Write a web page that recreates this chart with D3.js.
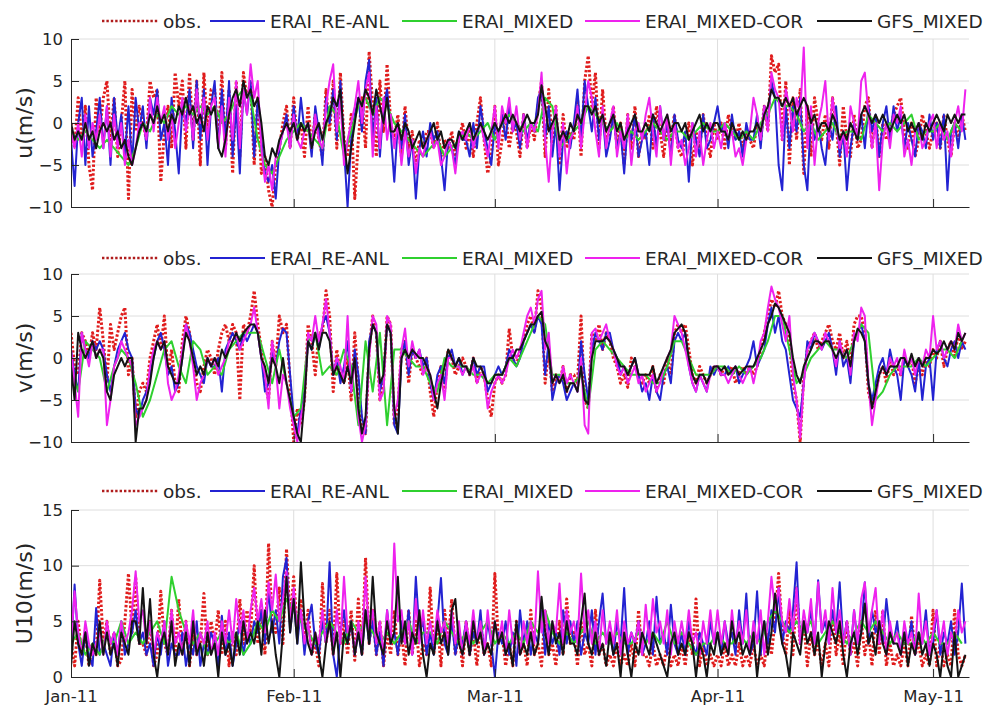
<!DOCTYPE html>
<html>
<head>
<meta charset="utf-8">
<script src="https://cdn.jsdelivr.net/npm/d3@7"></script>
<style>
  body { margin: 0; background: #fff; }
  svg { display: block; }
  text { font-family: "DejaVu Sans", sans-serif; fill: #262626; }
</style>
</head>
<body>
<svg id="chart" width="986" height="706"></svg>
<script>
// ---- labels and ticks ----
const seriesNames = ["obs.", "ERAI_RE-ANL", "ERAI_MIXED", "ERAI_MIXED-COR", "GFS_MIXED"];
const monthLabels = ["Jan-11", "Feb-11", "Mar-11", "Apr-11", "May-11"];
const monthStarts = ["2011-01-01", "2011-02-01", "2011-03-01", "2011-04-01", "2011-05-01"];
const periodStart = "2011-01-01";
const periodEnd = "2011-05-06";
const uTicks = [-10, -5, 0, 5, 10];
const vTicks = [-10, -5, 0, 5, 10];
const spdTicks = [0, 5, 10, 15];
// sampling interval (hours) of the twice-daily and daily series
const stepTwiceDaily = 12;
const stepDaily = 24;

// ---- u component (m/s), twice daily unless noted ----
const uObs = [
  0,-3,3,-2,2,-5,-8,3,-1,3, 5,-2,3,-4,0,5,-9,4,-1,2, 0,-2,5,3,4,-7,-1,2,-3,6,
  2,5,-3,6,-2,5,-5,6,-1,4, 4,-2,6,-3,4,-6,5,-4,6,3, 5,-5,3,-6,-4,-8,-10,-5,-3,0,
  2,-3,3,-2,0,-4,2,-3,1,-2, -4,4,-1,5,-3,6,-2,-4,1,-9, -2,3,-3,8.5,2,-4,5,-1,7,0,
  -2,1,-4,2,-3,-1,-5,-2,-3,-1, -1,-3,0,-4,-2,-3,-1,-4,-2,0, -3,-1,-4,0,3,-2,-6,-4,2,-5,
  -2,1,-3,0,-1,-4,1,-3,0,-2, 2,5,-4,4,-3,2,-5,1,-3,-1, -2,3,-4,5,8,2,6,-3,4,-2,
  -1,2,-3,0,-5,1,-3,2,-4,-1, -2,1,-3,2,-1,-4,0,-2,1,-3, -4,-2,0,-5,-1,-3,1,-2,-4,0,
  -2,0,-3,1,-1,-2,0,-3,-1,-2, -3,0,-2,2,-1,8,6,7,-2,5, -5,3,-2,4,-6,2,-4,3,0,-2,
  1,-3,3,0,-5,2,-2,-4,1,-3, -2,2,3,-3,1,-4,0,-2,-1,1, 2,3,-1,-3,0,-4,-2,1,-1,-3,
  -1,0,-3,1,-2,-4,0,-2,1,-1
];
const uEraiReAnl = [
  -2,-7.5,0,3,-5,2,-4,-1,3,-3, 2,-5,3,-2,1,-4,2,-5,3,-1, 2,-3,3,1,4,-2,0,-5,3,-1,
  -6,2,0,4,-3,5,-2,4,-5,2, 5,-3,4,-2,5,-4,2,-6,4,1, 5,-4,3,-2,-6,-7,-5,-9,-3,-1,
  1,-3,2,-2,3,-1,0,-4,2,-1, -5,3,0,4,-2,5,-3,-10,-2,1, 3,-1,5,7.5,-2,3,-4,2,4,-1,
  -7,0,-3,1,-5,-2,-9,-3,-1,-4, 0,-2,-1,-4,-8,-2,-3,-5,-1,-2, -2,-4,0,-3,2,-1,-3,-5,0,-2,
  1,-2,2,-1,0,-3,1,-2,0,-1, 3,4,-2,2,-4,0,-8,-2,-1,-3, 0,4,-2,5,2,-1,3,-2,1,-4,
  -2,1,-3,-1,-6,0,-2,1,-4,-2, -1,-5,1,-3,2,-2,0,-4,1,-2, -3,-1,-7,0,-2,-4,1,-3,-2,0,
  2,-1,0,-3,1,-2,-1,-4,0,-2, -2,1,-3,2,0,5,3,-5,-8,2, -3,2,-1,3,-5,-8,1,-2,0,-3,
  -5,0,-2,2,-4,-1,-8,-3,0,-2, 1,-3,2,-1,1,-4,0,2,-2,2, -1,1,-3,0,-2,-4,0,-1,-3,1,
  -2,0,-3,1,-8,-1,0,-3,1,-2
];
// daily
const uEraiMixed = [
  -1,-2,-1,-2,-3,-2,-3,-4,-5,-3, 0,-1,1,0,2,1,2,1,2,1, 2,0,1,3,4,3,-2,-5,-6,-4,
  -2,-1,0,-1,-2,-3,2,1,-4,-1, 2,3,1,3,2,0,-1,-2,-3,-4, -3,-2,-4,-3,-2,-1,-2,-1,0,-2,
  0,1,0,-1,0,-1,3,2,-3,-2, -1,0,2,1,0,-1,0,-2,-1,-2, -1,0,-1,-2,-1,-1,-2,-1,0,-1,
  -1,0,-1,-2,-1,-2,0,1,3,2, 2,1,-1,0,-2,-1,0,-2,-1,-1, -2,1,0,-1,0,-1,0,1,-2,-1,
  -1,0,-2,0,-1
];
const uEraiMixedCor = [
  -1,-3,0,-4,1,-3,0,-2,1,-3, 2,-4,1,-3,0,-5,-2,-5,-3,0, 0,-2,3,-1,3,0,2,-2,1,-3,
  0,3,-1,2,-2,4,0,3,-2,2, 3,-3,2,-4,3,-2,5,-3,4,1, 7,3,5,-3,-7,-5,-8,-4,-3,-1,
  0,-3,1,-2,-3,-1,0,-3,1,-2, -3,2,5,7,-1,3,-5,-2,0,2, 5,0,4,6,-4,2,-3,3,-2,1,
  -3,0,-5,-1,-4,-2,-6,-3,-4,-2, -1,-3,-2,-5,-4,-2,-3,-6,-2,-1, -2,0,-3,-1,0,-2,-4,-1,2,-3,
  2,0,3,-1,2,-2,1,-3,0,-1, 1,6,-2,-7,-1,2,-4,0,-6,-2, -1,2,-3,1,5,3,-1,-4,2,-3,
  0,2,-4,-1,-3,1,-5,-1,0,-2, 1,3,-1,-4,2,-2,1,-5,0,-3, -2,-5,-3,0,-4,-1,-5,-2,0,-3,
  -1,-3,0,-2,-1,-4,-3,-5,-2,-1, 3,1,-2,2,-1,6,4,3,-2,4, 2,-1,3,1,9,-3,2,-5,0,2,
  5,-2,3,0,-3,-1,-4,2,0,-2, 5,6,1,-3,0,-8,-2,0,-3,1, 0,2,-4,-2,-5,-1,0,-3,-2,0,
  1,-3,0,-2,-1,-4,0,2,-1,4
];
const uGfsMixed = [
  0,-2,-1,-2,0,-2,-1,-3,-1,0, -1,0,-2,-1,-3,-2,-4,-5,-3,-1, 0,-1,1,0,2,0,1,-1,1,0,
  2,1,3,1,2,0,1,-1,2,1, 2,-3,-4,-2,1,3,4,2,5,3, 4,2,3,0,-4,-5,-3,-4,-2,-1,
  0,-1,0,-2,0,-1,0,-3,-1,0, -2,0,1,3,2,4,-2,-6,-3,0, 3,2,4,3,1,4,2,0,3,-1,
  -1,0,-2,0,-1,-3,-2,-1,-3,-2, -1,0,-2,-1,-3,-2,-2,-3,-1,-2, -1,0,-2,-1,0,-1,-2,-1,0,-1,
  0,1,0,1,0,-1,0,1,0,0, 1,4.5,2,-1,0,1,-2,-1,-2,0, -1,1,0,2,2,1,2,0,1,-1,
  0,1,-1,0,-2,-1,0,1,-1,-1, 0,-1,1,0,-1,0,1,-1,0,0, -1,0,-2,-1,0,1,-1,0,-1,0,
  0,-1,-1,-2,0,-1,-2,-1,-2,-1, -1,0,-1,1,2,4,3,3,2,3, 2,3,1,2,3,2,0,1,-1,0,
  0,-1,1,0,-2,-1,-2,0,-1,-2, 1,2,1,0,1,0,1,0,-1,0, 1,0,1,-1,0,-1,0,-2,0,-1,
  0,1,0,-1,1,0,1,0,1,1
];

// ---- v component (m/s) ----
const vObs = [
  3,-1,-2,3,2,0,3,1,6,2, -3,4,1,3,5,6,-2,0,-7,-4, -3,-4,0,2,4,1,5,-2,1,-3,
  -4,2,5,3,0,-3,-4,-1,1,0, -2,1,3,4,2,4,3,-5,4,3, 5,8,4,1,-3,-5,2,-1,5,3,
  4,-3,-10,-6,-8,-5,4,2,-2,3, 3,8,5,-4,1,-2,-3,0,-5,3, -3,-8,-9,1,5,3,-5,-3,5,4,
  -8,-6,1,2,-3,1,0,-1,-2,0, -4,-7,-3,-1,-4,1,0,-2,-1,0, -1,-2,0,-3,-1,-2,-5,-7,-3,-2,
  -3,-2,3.5,0,-1,1,2,4,5,3, 8,6,-3,1,-4,-2,-3,-1,-4,-2, -2,-3,5,-5,-6,3,2,4,1,3,
  2,0,-1,-3,-2,-3.5,0,-1,-2,-3, -2,-3,-1,-4,-2,-3,0,-2,3,4, 3,4,1,-2,-3,-1,-2,-3,-2,-1,
  -1,-2,-1,-2,-1,-3,-2,-1,-2,-1, -2,-1,1,3,5,7,6,8,5,4, 2,-3,-5,-10,-2,1,2,3,1,2,
  3,4,2,1,3,0,2,-1,4,5, 5,3,-4,-6,-4,-2,-1,-3,0,-2, -1,-2,0,-1,0,-3,-1,-2,0,-1,
  1,0,2,-1,1,2,0,3,1,2
];
const vEraiReAnl = [
  1,-2,-4,3,1,0,2,1,2,1, -2,-4,-1,1,2,3,1,0,-6,-7, -5,-4,-2,0,2,3,1,-2,-1,-4,
  -3,0,4,3,1,-1,-2,-3,0,-1, -1,0,-4,1,2,3,2,1,3,2, 3,4,3,0,-4,-3,1,-1,2,3.5,
  3,-2,-7,-9,-6,-4,2,1,3,1, 4,5,3,-2,0,-3,-1,2,-4,1, -2,-7,-9,2,4,3,-4,-2,4,3,
  -8,-9,0,2,-2,1,0,1,-1,0, -3,-5,-2,-1,-3,0,1,-1,0,-2, -1,-2,0,-2,-1,-1,-4,-3,-2,-1,
  -2,-1,1,0,-1,0,2,3,4,3, 5,4,-2,2,-5,-3,-2,-3,-5,-4, -3,-4,2,-2,-5,1,3,2,1,3,
  3,1,0,-2,-1,-2,-1,0,-2,-4, -3,-5,-2,-4,-5,-2,-1,-3,2,3, 2,3,-1,-3,-4,-2,-3,-4,-1,-2,
  -1,-2,-2,-1,-2,-1,-3,-2,-1,0, 2,-1,0,1,4,6,3,5,2,1, -2,-5,-6,-7,-3,2,1,3,2,1,
  2,3,1,-2,2,-1,0,-3,2,3, 4,2,-3,-5,-3,-1,0,-2,1,-1, -2,-5,0,-1,-2,-4,0,-5,-1,0,
  -5,1,2,0,-1,1,2,0,2,1
];
// daily
const vEraiMixed = [
  -1,-4,2,1,0,-4,-1,1,0,-3, -7,-5,-2,1,2,-1,-3,2,1,-2, -1,-2,1,2,3,3,3,0,-3,1,
  -3,-7,-6,2,3,-2,-1,-2,1,-1, -8,2,-4,3,-8,1,1,0,-1,-1, -3,-4,0,-1,-1,-1,-2,-2,-3,-2,
  -2,0,-1,1,3,5,4,-2,-2,-3, -3,-2,-6,1,2,1,0,-1,-2,-2, -2,-3,-3,-1,2,2,0,-2,-2,-2,
  -1,-1,-2,-1,-2,-1,0,2,5,5, 1,-3,-2,0,1,2,1,1,0,2, 4,3,-5,-4,-2,-1,-1,-1,0,-1,
  0,1,1,0,2
];
const vEraiMixedCor = [
  1,-3,-7,3,1,-1,2,0,1,1, -8,-5,-1,0,2,1,0,-1,-8,-7, -6,-5,-1,1,2,1,2,-3,-5,-4,
  -2,1,4,2,-1,-5,-3,-2,0,-1, 0,-2,-1,0,2,2,3,1,2,3, 4,6,3,0,-2,-6,2,-1,-6,-2,
  -3,-6,-8,-10,-7,-5,3,2,5,2, 4,7,3,-2,0,-1,-3,5,-4,0, -7,-10,-8,0,5,4,-5,-4,5,4,
  -7,-5,1,3.5,-1,2,0,1,-2,-1, -2,-5,-3,-2,-5,0,0,-1,-1,-2, -1,-2,-1,-3,-2,-2,-6,-4,-3,-2,
  -3,-2,0,1,0,1,3,5,6,4, 7,8,1,3,-3,-2,-3,-1,-3,-2, -3,-4,0,-8,-9,3,3.5,2,3,4,
  2,1,-1,-2,-1,-3,-2,-1,-3,-2, -4,-3,-2,-4,-3,-1,0,1,5,4, 3,1,-1,-3,-4,-2,-3,-4,-2,-1,
  -1,-2,-2,-3,-2,-1,-2,-3,-2,-1, -3,-1,2,3,6,8.5,7,6,4,2, 5,-2,-5,-9.5,-3,1,2,3,2,1,
  3,2,1,-1,2,0,1,-2,3,2, 6,5,-3,-8,-5,-2,-1,-2,0,-1, 0,-2,1,-1,0,-2,0,-1,1,0,
  5,1,2,0,1,2,1,4,2,3
];
const vGfsMixed = [
  -1,-5,3,1,0,1,2,0,1,0, -4,-5,-2,-1,0,-1,0,0,-10,-6, -6,-5,-3,0,2,1,2,-1,-2,-3,
  -3,0,3,2,0,-2,-1,-2,0,-1, 0,-1,1,0,1,2,3,2,3,3.5, 4,4,3,0,-1,-3,0,-1,-3,0,
  -3,-5,-7,-9,-10,-5,2,1,3,1, 3,3,2,-2,-1,-2,-3,-1,-3,0, -6,-9,-7,1,4,3,-3,-2,4,3,
  -6,-9,0,1,0,1,0.5,0,0,-1, -2,-4,-6,-3,-1,1,0,-1,0,-1, -1,-2,0,-1,-1,-2,-3,-3,-2,-2,
  -2,-1,0,0,1,1,2,3,4,4, 5,5.5,2,1,-3,-2,-3,-2,-4,-3, -3,-4,-1,-5,-5.5,0,2,2,2,2.5,
  2,1,0,-1,-1,-2,-1,0,-2,-2, -2,-2,-1,-3,-2,-1,0,1,3,3.5, 4,3,0,-2,-3,-2,-2,-3,-2,-1,
  -1,-1.5,-1,-2,-1.5,-1,-2,-1.5,-1,-1, -1,0,1,2,4,5,6.5,6,5,4, 3,0,-2,-3,-1,0,1,2,2,1.5,
  2,2,1,0,1,0,1,-1,2,3.5, 3,2,-3,-6,-4,-2,-1,-2,-1,-1, -1,0,0,-1,0.5,-1,0,-1,0,0,
  1,0.5,1,2,1,2,1,3,2,3
];

// ---- wind speed U10 (m/s) ----
const spdObs = [
  3,1,5,2,4,1,3,2,8.7,3, 5,2,4,1,1.5,5,9.3,4,9,3, 3,2,5,1,2,7.7,3,2,6,2,
  7,2,5,1,4,2,3,7.5,2,5, 3,6,2,5,1,4,2,7,3,6, 4,10,3,6,2,12,5,4,8,3,
  11.5,5,9,4,7,3,6,2,3,1, 8.4,3,6,2,9.3,3,5,2,6,1.5, 7,2,10.7,3,6,2,5,1,4,2,
  6,2,4,1,6,2,5,1,3,2, 8,2,5,1,6,3,7,2,4,1, 5,2,4,1,5,2,3,1,9.3,3,
  4,1,3,1,5,2,3,1,6,2, 3,1,6,2,3,1,5,2,7,3, 4,1,5,2,3,1,6,2,3,1,
  2,1,3,1,2,1,3,1,6,2, 2,1,3,1,2,1,3,1,2,1, 3,1,4,2,7,1,3,1,2,1,
  2,1,3,1,2,1,3,1,2,1, 3,1,2,1,4,2,5,9.3,4,2, 6,2,8,3,5,1,4,2,3,1,
  3,1,6,2,4,1,5,2,3,1, 5,2,4,1,6,2,6,1,3,1, 2,1,3,1,5.5,2,3,1,2,1,
  6,1,3,1,2,1,6,2,1,2
];
const spdEraiReAnl = [
  2,8.3,3,1,4,2,1,6.2,2,3, 2,1,4,2,5,2,3,4,6,3, 4,2,3,1,4,2,5,1,3,2,
  2,4,1,3,2,5,1,3,2,4, 3,1,5.5,2,4,1,3,5,2,4, 3,5,4,6,3,8,4,6,3,9,
  10.7,4,7,3,6,2,5,6.5,3,2, 5,3,10.3,2,0,4,6,3,5,2, 4,2,6,3,5,2,4,1,6,3,
  4,2,5,3,6,2,9,4,5,2, 4,2,5,8.9,3,2,5,2,4,3, 5,2,4,3,6,2,5,3,0,4,
  3,5,2,4,1,6,3,5,2,4, 3,6,2,5,3,4,2,6,3,5, 3,5,2,4,3,6,2,5,7.5,3,
  4,2,5,3,8,2,4,3,5,2, 3,5,2,7.2,3,4,2,6.5,3,2, 4,2,5,3,2,4,3,2,5,3,
  4,2,5,3,4,2,6,3,7.5,2, 3,7.7,2,5,3,6,4,8,3,5, 4,6,10.3,3,5,4,6,3,8.7,4,
  5,3,6,4,8.5,3,5,2,6,3, 4,8.5,3,6,4,5,3,7,4,3, 5,2,4,3,5,2,4,3,6,2,
  3,6,2,4,3,5,2,4,8.4,3
];
// daily
const spdEraiMixed = [
  3,4,2,3,2,4,3,5,3,4, 3,4,5,3,9,6,4,3,4,2, 3,4,3,4,2,3,5,4,6,5,
  7,6,5,4,3,4,5,4,3,5, 4,5,4,3,4,3,4,5,3,4, 4,3,5,4,3,4,3,4,5,3,
  4,3,4,3,5,4,6,4,3,4, 3,4,5,3,4,3,4,3,3,4, 3,4,3,5,3,4,3,2,3,3,
  4,3,3,4,3,4,3,5,6,5, 4,5,4,5,3,4,5,4,3,4, 5,4,5,4,3,4,3,3,4,3,
  4,3,3,4,3
];
const spdEraiMixedCor = [
  3,7.7,4,2,5,3,2,3,4,2, 5,3,4,2,5,3,4,6,9.5,5, 6,3,5,2,4,3,5,2,6,3,
  4,2,5,3,6,2,4,3,5,2, 4,2,5,3,6,3,7,4,6,3, 6,8,5,7,4,8.5,6,9.2,5,7,
  9.5,5,8,4,6,3,5,2,4,3, 6,3,5,2,6,3,9,4,5,2, 5,3,9,4,6,3,5,2,6,3,
  12,5,6,3,5,2,7,3,6,3, 5,3,6,4,5,3,6,3,5,2, 5,3,6,3,5,2,6,3,5,3,
  5,2,6,3,4,2,5,3,5,3, 9.5,4,6,3,5,4,8.4,3,6,4, 5,3,9.3,4,6,3,5,2,6,3,
  5,3,6,2,5,3,4,3,5,2, 6.5,3,7,4,5,3,6,2,5,3, 5,3,6,3,4,2,5,3,6,3,
  6,3,5,2,6,3,5,3,6,2, 5,3,6,2,5,9,6,8,5,4, 7,4,8,3,6,4,7,3,8.5,4,
  6,3,8,4,6,3,5,2,6,3, 7,8.5,4,6,8,3,6,2,5,3, 4,2,5,3,4,2,7.5,3,5,2,
  4,6,3,5,2,4,3,6,4,5
];
const spdGfsMixed = [
  1,5,3,2,4,1,3,2,5,2, 4,2,3,1,4,3,2,5,5,3, 8,3,7,2,0,3,4,2,5,1,
  3,2,4,1,5,2,3,1,4,2, 3,0,4,2,3,1,4,2,5,3, 4,3,5,2,6,3,5,2,0,4,
  9,4,7,3,10.3,5,3,2,4,2, 0,3,5,2,4,0,4,3,5,2, 4,2,6,3,9,4,3,2,5,3,
  4,9,3,5,2,4,3,6,2,0, 3,2,5,3,4,2,6,7,3,2, 4,2,5,3,4,2,3,2,5,3,
  4,2,3,1,5,2,3,2,4,2, 3,7.2,4,2,5,3,4,2,5,3, 3,2,5,7.5,3,2,4,2,3,1,
  4,2,3,0,4,2,0,3,2,4, 3,2,4,3,2,1,0,3,4,2, 3,2,4,3,0,3,2,0,3,2,
  4,2,3,2,5,3,4,2,3,2, 4,0,3,5,2,4,7.5,5,3,2, 0,4,3,2,5,3,4,2,4,0,
  3,5,4,3,5,2,0,3,4,2, 4,6.6,3,4,2,5,3,2,4,3, 3,2,4,1,3,2,4,2,3,1,
  3,2,0,3,1,0,4,0,1,2
];

// ---- drawing ----
const seriesStyles = [
  { color: "#e01c1c", width: 3, dash: "2.4,2" },
  { color: "#2323d2", width: 2 },
  { color: "#2fd02f", width: 2 },
  { color: "#ee22ee", width: 2 },
  { color: "#141414", width: 2 }
];
const seriesSteps = [stepTwiceDaily, stepTwiceDaily, stepDaily, stepTwiceDaily, stepTwiceDaily];

const panels = [
  { title: "u(m/s)", domain: [-10, 10], ticks: uTicks, top: 39, bottom: 207, legendY: 21, showMonths: false,
    data: [uObs, uEraiReAnl, uEraiMixed, uEraiMixedCor, uGfsMixed] },
  { title: "v(m/s)", domain: [-10, 10], ticks: vTicks, top: 274, bottom: 442, legendY: 258, showMonths: false,
    data: [vObs, vEraiReAnl, vEraiMixed, vEraiMixedCor, vGfsMixed] },
  { title: "U10(m/s)", domain: [0, 15], ticks: spdTicks, top: 510, bottom: 677, legendY: 491, showMonths: true,
    data: [spdObs, spdEraiReAnl, spdEraiMixed, spdEraiMixedCor, spdGfsMixed] }
];

const left = 71, right = 969;
const utc = s => new Date(s + "T00:00:00Z");
const t0 = utc(periodStart);
const monthDates = monthStarts.map(utc);

const x = d3.scaleUtc().domain([t0, utc(periodEnd)]).range([left, right]);
const svg = d3.select("#chart");

const legendItems = [
  { x1: 102, x2: 158, tx: 163 },
  { x1: 210, x2: 265, tx: 270 },
  { x1: 402, x2: 457, tx: 462 },
  { x1: 585, x2: 640, tx: 645 },
  { x1: 817, x2: 872, tx: 877 }
];

panels.forEach((p, pi) => {
  const y = d3.scaleLinear().domain(p.domain).range([p.bottom, p.top]);
  const g = svg.append("g");

  // grid
  g.append("g").selectAll("line.h").data(p.ticks.filter(t => t !== p.domain[0]))
    .join("line")
    .attr("x1", left).attr("x2", right)
    .attr("y1", d => y(d)).attr("y2", d => y(d))
    .attr("stroke", "#dedede").attr("stroke-width", 1);
  g.append("g").selectAll("line.v").data(monthDates.slice(1))
    .join("line")
    .attr("x1", d => x(d)).attr("x2", d => x(d))
    .attr("y1", p.top).attr("y2", p.bottom)
    .attr("stroke", "#dedede").attr("stroke-width", 1);

  // series
  const clipId = "clip" + pi;
  svg.append("clipPath").attr("id", clipId)
    .append("rect").attr("x", left).attr("y", p.top - 1)
    .attr("width", right - left).attr("height", p.bottom - p.top + 2);
  const line = d3.line().x(d => x(d.t)).y(d => y(d.v));
  const plot = g.append("g").attr("clip-path", `url(#${clipId})`);
  p.data.forEach((arr, si) => {
    const pts = arr.map((v, i) => ({ t: new Date(t0.getTime() + i * seriesSteps[si] * 3600e3), v }));
    const st = seriesStyles[si];
    plot.append("path").datum(pts)
      .attr("d", line)
      .attr("fill", "none")
      .attr("stroke", st.color)
      .attr("stroke-width", st.width)
      .attr("stroke-linejoin", "round")
      .attr("stroke-dasharray", st.dash || null);
  });

  // axes
  const yAxis = d3.axisLeft(y).tickValues(p.ticks).tickSize(-8).tickSizeOuter(0).tickPadding(8);
  const ya = g.append("g").attr("transform", `translate(${left},0)`).call(yAxis);
  ya.select(".domain").attr("stroke", "#262626");
  ya.selectAll(".tick line").attr("stroke", "#262626");
  ya.selectAll("text").attr("font-size", 16.5).attr("font-family", "DejaVu Sans, sans-serif").attr("fill", "#262626");

  const xAxis = d3.axisBottom(x).tickValues(monthDates).tickSize(-8).tickSizeOuter(0).tickPadding(13.3)
    .tickFormat((d, i) => p.showMonths ? monthLabels[i] : "");
  const xa = g.append("g").attr("transform", `translate(0,${p.bottom})`).call(xAxis);
  xa.select(".domain").attr("stroke", "#262626");
  xa.selectAll(".tick line").attr("stroke", "#262626");
  xa.selectAll("text").attr("font-size", 16.5).attr("font-family", "DejaVu Sans, sans-serif").attr("fill", "#262626");

  // axis title
  g.append("text")
    .attr("transform", `translate(24,${(p.top + p.bottom) / 2}) rotate(-90)`)
    .attr("text-anchor", "middle").attr("dominant-baseline", "central")
    .attr("font-size", 22)
    .text(p.title);

  // legend
  const lg = g.append("g");
  legendItems.forEach((it, si) => {
    const st = seriesStyles[si];
    lg.append("line")
      .attr("x1", it.x1).attr("x2", it.x2).attr("y1", p.legendY).attr("y2", p.legendY)
      .attr("stroke", si === 0 ? "#b01c1c" : st.color)
      .attr("stroke-width", si === 0 ? 2.6 : 1.8)
      .attr("stroke-dasharray", st.dash || null);
    lg.append("text")
      .attr("x", it.tx).attr("y", p.legendY).attr("dy", "0.36em")
      .attr("font-size", 18.5)
      .text(seriesNames[si]);
  });
});
</script>
</body>
</html>
